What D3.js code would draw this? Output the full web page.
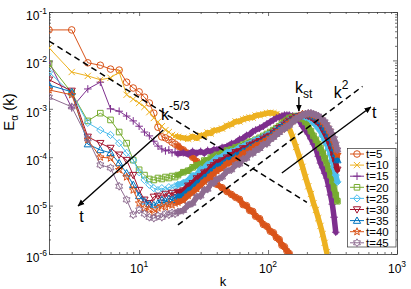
<!DOCTYPE html>
<html><head><meta charset="utf-8">
<script src="https://cdn.jsdelivr.net/npm/d3@7"></script>
<style>
body{margin:0;background:#fff}
svg{display:block}
text{font-family:"Liberation Sans",Arial,Helvetica,sans-serif;fill:#000}
</style>
</head><body>
<svg id="c" width="411" height="289"></svg>
<script>
// wavenumbers shared by all spectra
const kGrid = [2,3,4,5,6,7,8,9,10,11,12,13,14,15,16,17,18,19,20,
  22,24,26,28,30,32,34,36,38,40,
  44,48,52,56,60,64,68,72,76,80,
  86,92,98,104,110,116,122,128,134,140,146,
  155,165,175,185,195,205,215,225,235,245,255,265,275,285,295,305,315,325,335,345];

// log10 of E_alpha(k)
const logE_t5 = [-1.37,-1.37,-2.05,-2.10,-2.18,-2.20,-2.45,-2.57,-2.65,-2.76,-2.88,-3.09,-3.38,-3.58,-3.60,-3.64,-3.69,-3.73,-3.77,
  -3.85,-3.92,-4.00,-4.09,-4.17,-4.25,-4.33,-4.42,-4.48,-4.56,
  -4.63,-4.71,-4.77,-4.83,-4.87,-4.98,-5.00,-5.10,-5.12,-5.22,
  -5.27,-5.39,-5.43,-5.53,-5.56,-5.66,-5.70,-5.82,-5.85,-5.94,-5.99];
const logE_t10 = [-1.74,-2.24,-2.32,-2.40,-2.36,-2.24,-2.71,-2.80,-2.88,-2.96,-3.07,-3.19,-3.27,-3.36,-3.44,-3.48,-3.54,-3.56,-3.58,
  -3.60,-3.62,-3.57,-3.61,-3.55,-3.55,-3.49,-3.51,-3.45,-3.44,
  -3.41,-3.35,-3.32,-3.26,-3.26,-3.22,-3.20,-3.18,-3.18,-3.14,
  -3.13,-3.11,-3.09,-3.08,-3.09,-3.11,-3.15,-3.19,-3.25,-3.31,-3.40,
  -3.58,-3.79,-4.00,-4.20,-4.41,-4.60,-4.76,-4.95,-5.09,-5.26,-5.42,-5.59,-5.77,-5.96];
const logE_t15 = [-2.03,-2.98,-2.59,-2.45,-3.00,-3.05,-3.15,-3.25,-3.36,-3.48,-3.56,-3.67,-3.77,-3.83,-3.87,-3.85,-3.91,-3.89,-3.93,
  -3.91,-3.94,-3.88,-3.92,-3.88,-3.92,-3.86,-3.89,-3.84,-3.85,
  -3.80,-3.78,-3.72,-3.70,-3.63,-3.61,-3.55,-3.53,-3.47,-3.44,
  -3.40,-3.36,-3.31,-3.27,-3.23,-3.19,-3.17,-3.15,-3.13,-3.13,-3.13,
  -3.15,-3.19,-3.25,-3.36,-3.44,-3.52,-3.62,-3.73,-3.83,-3.98,-4.12,-4.22,-4.33,-4.43,-4.60,-4.78,-4.97,-5.24,-5.55];
const logE_t20 = [-2.07,-2.67,-3.25,-3.09,-3.23,-3.48,-3.71,-4.06,-4.26,-4.37,-4.45,-4.47,-4.43,-4.45,-4.41,-4.43,-4.39,-4.41,-4.37,
  -4.31,-4.28,-4.21,-4.17,-4.15,-4.07,-4.07,-4.01,-3.99,-3.95,
  -3.92,-3.86,-3.84,-3.80,-3.78,-3.74,-3.72,-3.68,-3.68,-3.64,
  -3.60,-3.56,-3.52,-3.48,-3.44,-3.40,-3.36,-3.31,-3.27,-3.23,-3.19,
  -3.17,-3.15,-3.17,-3.21,-3.27,-3.36,-3.46,-3.56,-3.64,-3.73,-3.81,-3.91,-4.02,-4.12,-4.24,-4.37,-4.49,-4.64,-4.78,-4.91];
const logE_t25 = [-2.24,-2.69,-3.29,-3.44,-3.54,-3.71,-3.91,-4.06,-4.31,-4.47,-4.57,-4.64,-4.68,-4.64,-4.68,-4.62,-4.64,-4.60,-4.57,
  -4.53,-4.48,-4.38,-4.36,-4.25,-4.23,-4.15,-4.13,-4.07,-4.02,
  -3.99,-3.90,-3.88,-3.86,-3.80,-3.78,-3.74,-3.72,-3.68,-3.65,
  -3.62,-3.58,-3.54,-3.52,-3.48,-3.42,-3.38,-3.33,-3.31,-3.27,-3.23,
  -3.21,-3.17,-3.15,-3.15,-3.17,-3.19,-3.23,-3.29,-3.33,-3.40,-3.46,-3.56,-3.64,-3.73,-3.83,-3.93,-4.08,-4.22,-4.37,-4.51];
const logE_t30 = [-2.40,-2.63,-3.58,-3.71,-3.81,-3.95,-4.06,-4.37,-4.68,-4.88,-4.95,-4.82,-4.80,-4.84,-4.76,-4.80,-4.74,-4.78,-4.72,
  -4.69,-4.59,-4.54,-4.44,-4.40,-4.32,-4.30,-4.21,-4.17,-4.11,
  -4.07,-4.01,-3.96,-3.90,-3.88,-3.82,-3.82,-3.76,-3.74,-3.70,
  -3.67,-3.62,-3.58,-3.56,-3.50,-3.46,-3.40,-3.38,-3.33,-3.29,-3.25,
  -3.21,-3.17,-3.15,-3.13,-3.13,-3.15,-3.17,-3.21,-3.25,-3.29,-3.33,-3.42,-3.50,-3.58,-3.67,-3.77,-3.87,-4.00,-4.12,-4.26];
const logE_t35 = [-2.51,-2.65,-3.73,-3.85,-3.91,-4.12,-4.33,-4.57,-4.80,-4.91,-4.97,-4.99,-4.95,-4.88,-4.91,-4.86,-4.88,-4.84,-4.82,
  -4.79,-4.69,-4.63,-4.54,-4.50,-4.42,-4.38,-4.30,-4.25,-4.19,
  -4.15,-4.07,-4.03,-3.97,-3.94,-3.88,-3.86,-3.80,-3.78,-3.74,
  -3.71,-3.67,-3.62,-3.58,-3.52,-3.48,-3.42,-3.38,-3.36,-3.31,-3.27,
  -3.23,-3.17,-3.15,-3.11,-3.11,-3.11,-3.13,-3.15,-3.17,-3.21,-3.25,-3.31,-3.38,-3.44,-3.52,-3.60,-3.71,-3.81,-3.93,-4.06];
const logE_t40 = [-2.61,-2.71,-3.64,-4.00,-4.02,-4.26,-4.41,-4.68,-4.95,-5.05,-5.09,-5.15,-5.05,-5.01,-5.03,-4.97,-4.99,-4.95,-4.93,
  -4.89,-4.79,-4.73,-4.65,-4.58,-4.50,-4.46,-4.38,-4.34,-4.28,
  -4.23,-4.13,-4.11,-4.03,-4.01,-3.92,-3.90,-3.84,-3.82,-3.76,
  -3.73,-3.69,-3.64,-3.60,-3.56,-3.50,-3.46,-3.42,-3.38,-3.33,-3.29,
  -3.25,-3.19,-3.15,-3.11,-3.11,-3.11,-3.11,-3.13,-3.15,-3.17,-3.21,-3.27,-3.31,-3.38,-3.44,-3.52,-3.60,-3.71,-3.83,-3.95];
const logE_t45 = [-2.76,-2.96,-3.62,-4.16,-4.22,-4.60,-4.88,-5.19,-5.09,-5.17,-5.24,-5.26,-5.21,-5.24,-5.17,-5.19,-5.15,-5.17,-5.13,
  -5.10,-4.99,-4.95,-4.82,-4.80,-4.68,-4.66,-4.55,-4.53,-4.46,
  -4.41,-4.29,-4.26,-4.16,-4.14,-4.04,-4.02,-3.93,-3.92,-3.86,
  -3.82,-3.74,-3.72,-3.63,-3.59,-3.53,-3.49,-3.43,-3.41,-3.37,-3.34,
  -3.27,-3.21,-3.17,-3.13,-3.11,-3.09,-3.09,-3.11,-3.13,-3.15,-3.19,-3.23,-3.27,-3.33,-3.40,-3.46,-3.54,-3.62,-3.73,-3.85];

const seriesLabels = ["t=5","t=10","t=15","t=20","t=25","t=30","t=35","t=40","t=45"];
const seriesValues = [logE_t5,logE_t10,logE_t15,logE_t20,logE_t25,logE_t30,logE_t35,logE_t40,logE_t45];
const seriesColors = ["#D95319","#EDB120","#7E2F8E","#77AC30","#4DBEEE","#A2142F","#0072BD","#D95319","#8E6C90"];
const seriesMarkers = ["circle","x","plus","square","diamond","tridown","triup","pentagram","hexagram"];

// reference power laws (k, log10 E)
const refK53 = [2, 200], refLogE53 = [-1.60, -4.933];
const refK2 = [20, 540], refLogE2 = [-5.40, -2.537];

// axis ticks
const xTicks = [10, 100, 1000], xTickExp = ["1","2","3"];
const yTicks = [1e-6,1e-5,1e-4,1e-3,1e-2,1e-1], yTickExp = ["-6","-5","-4","-3","-2","-1"];

// annotations (k, log10 E)
const arrowLeft = {k:[15.4, 3.36], le:[-3.438, -5.008]};
const arrowRight = {k:[128, 627], le:[-4.326, -2.963]};
const arrowKst = {k:[173.4, 173.4], le:[-2.756, -3.045]};

const svg = d3.select("#c");
const L = 49, R = 397, T = 12, B = 254;
const x = d3.scaleLog().domain([2, 1000]).range([L, R]);
const y = d3.scaleLog().domain([1e-6, 1e-1]).range([B, T]);
const P = v => Math.pow(10, v);

svg.append("rect").attr("x",0).attr("y",0).attr("width",411).attr("height",289).attr("fill","#fff");

const defs = svg.append("defs");
defs.append("clipPath").attr("id","clip")
  .append("rect").attr("x",L).attr("y",T).attr("width",R-L).attr("height",B-T);
defs.append("marker").attr("id","ah").attr("viewBox","0 0 10 10").attr("refX",9).attr("refY",5)
  .attr("markerWidth",7).attr("markerHeight",7).attr("markerUnits","userSpaceOnUse").attr("orient","auto")
  .append("path").attr("d","M0,0.8 L10,5 L0,9.2 Z").attr("fill","#000");

// axes
const axCol = "#333";
const minorX = [], minorY = [];
[1,10,100].forEach(d => { for (let i=2;i<10;i++) { const v=i*d; if (v>=2 && v<1000) minorX.push(v);} });
[1e-6,1e-5,1e-4,1e-3,1e-2].forEach(d => { for (let i=2;i<10;i++) minorY.push(i*d); });

function drawAxis(gen, tx, ty) {
  return svg.append("g").attr("transform",`translate(${tx},${ty})`)
    .call(gen.tickSizeOuter(0).tickFormat(""));
}
function styleAxis(g){ g.selectAll("path").attr("stroke",axCol).attr("stroke-width",0.8);
  g.selectAll("line").attr("stroke",axCol).attr("stroke-width",0.7); g.selectAll("text").remove(); }

[[d3.axisBottom(x),0,B],[d3.axisTop(x),0,T]].forEach(([gen,tx,ty])=>{
  styleAxis(drawAxis(gen.tickValues(xTicks).tickSize(-4),tx,ty));
  const g2 = drawAxis((ty===B?d3.axisBottom(x):d3.axisTop(x)).tickValues(minorX).tickSize(-2),tx,ty);
  styleAxis(g2); g2.select("path").remove();
});
[[d3.axisLeft(y),L,0],[d3.axisRight(y),R,0]].forEach(([gen,tx,ty])=>{
  styleAxis(drawAxis(gen.tickValues(yTicks).tickSize(-4),tx,ty));
  const g2 = drawAxis((tx===L?d3.axisLeft(y):d3.axisRight(y)).tickValues(minorY).tickSize(-2),tx,ty);
  styleAxis(g2); g2.select("path").remove();
});

// tick labels
xTicks.forEach((v,i)=>{
  const t = svg.append("text").attr("x",x(v)).attr("y",B+19).attr("text-anchor","middle").attr("font-size",12);
  t.append("tspan").text("10");
  t.append("tspan").attr("dy",-6).attr("font-size",8.5).text(xTickExp[i]);
});
yTicks.forEach((v,i)=>{
  const t = svg.append("text").attr("x",L-2).attr("y",y(v)+8).attr("text-anchor","end").attr("font-size",12);
  t.append("tspan").text("10");
  t.append("tspan").attr("dy",-6).attr("font-size",8.5).text(yTickExp[i]);
});

// axis titles
svg.append("text").attr("x",223).attr("y",286).attr("text-anchor","middle").attr("font-size",13).text("k");
const yl = svg.append("text").attr("transform","translate(14,112) rotate(-90)").attr("text-anchor","middle").attr("font-size",15);
yl.append("tspan").text("E");
yl.append("tspan").attr("dy",4).attr("font-size",10).text("α");
yl.append("tspan").attr("dy",-4).text(" (k)");

// marker shapes
function markerPath(type, r) {
  switch(type){
    case "circle": return `M${-r},0A${r},${r} 0 1,0 ${r},0A${r},${r} 0 1,0 ${-r},0Z`;
    case "x": { const a=r*0.95; return `M${-a},${-a}L${a},${a}M${-a},${a}L${a},${-a}`; }
    case "plus": { const a=r*1.15; return `M${-a},0H${a}M0,${-a}V${a}`; }
    case "square": { const a=r*0.85; return `M${-a},${-a}H${a}V${a}H${-a}Z`; }
    case "diamond": { const a=r*1.1; return `M0,${-a}L${a},0L0,${a}L${-a},0Z`; }
    case "tridown": { const a=r*1.1; return `M${-a},${-a*0.75}L${a},${-a*0.75}L0,${a}Z`; }
    case "triup": { const a=r*1.1; return `M${-a},${a*0.75}L${a},${a*0.75}L0,${-a}Z`; }
    case "pentagram": case "hexagram": {
      const n = type==="pentagram"?5:6, ro=r*1.2, ri= type==="pentagram"?ro*0.42:ro*0.58;
      let p=""; for(let i=0;i<2*n;i++){ const ang=-Math.PI/2+i*Math.PI/n; const rr=i%2?ri:ro;
        p+=(i?"L":"M")+(rr*Math.cos(ang)).toFixed(2)+","+(rr*Math.sin(ang)).toFixed(2);} return p+"Z"; }
  }
}

const line = d3.line().x(d=>x(d[0])).y(d=>y(P(d[1])));
const plotG = svg.append("g").attr("clip-path","url(#clip)");

// series: thin connecting line, dense-marker band where markers overlap (k >= 20), markers
seriesValues.forEach((vals,si)=>{
  const pts = vals.map((v,i)=>[kGrid[i], v]);
  const g = plotG.append("g");
  const dense = pts.filter(d=>d[0]>=20);
  g.append("path").attr("d",line(dense)).attr("fill","none").attr("stroke",seriesColors[si])
    .attr("stroke-width",5.5).attr("stroke-linejoin","round").attr("stroke-linecap","round");
  g.append("path").attr("d",line(pts)).attr("fill","none").attr("stroke",seriesColors[si]).attr("stroke-width",1);
  g.selectAll("path.m").data(pts).enter().append("path").attr("class","m")
    .attr("transform",d=>`translate(${x(d[0])},${y(P(d[1]))})`)
    .attr("d",markerPath(seriesMarkers[si],3.3))
    .attr("fill","none").attr("stroke",seriesColors[si]).attr("stroke-width",1);
});

// reference dashed lines
[[refK53,refLogE53],[refK2,refLogE2]].forEach(([ks,ls])=>{
  plotG.append("path").attr("d",line(ks.map((k,i)=>[k,ls[i]])))
    .attr("fill","none").attr("stroke","#000").attr("stroke-width",1.5).attr("stroke-dasharray","6,4");
});

// arrows
[arrowLeft, arrowRight, arrowKst].forEach(a=>{
  svg.append("path").attr("d",line(a.k.map((k,i)=>[k,a.le[i]])))
    .attr("fill","none").attr("stroke","#000").attr("stroke-width",1.4).attr("marker-end","url(#ah)");
});

// annotation texts
function note(k, le, parts, anchor){
  const t = svg.append("text").attr("x",x(k)).attr("y",y(P(le))).attr("text-anchor",anchor||"start");
  parts.forEach(p=>{ const s=t.append("tspan").attr("font-size",p.fs).text(p.s); if(p.dy) s.attr("dy",p.dy); });
}
note(14.8, -3.231, [{s:"k",fs:16},{s:"-5/3",fs:12,dy:-10}]);
note(161.5, -2.674, [{s:"k",fs:16},{s:"st",fs:12,dy:5}]);
note(323.8, -2.777, [{s:"k",fs:16},{s:"2",fs:12,dy:-9}]);
note(3.57, -5.339, [{s:"t",fs:16}], "middle");
note(667, -3.19, [{s:"t",fs:16}], "middle");

// legend
const lg = svg.append("g");
lg.append("rect").attr("x",347.5).attr("y",148.5).attr("width",48.5).attr("height",98.5)
  .attr("fill","#fff").attr("stroke","#333").attr("stroke-width",0.7);
seriesLabels.forEach((lab,i)=>{
  const cy = 154 + i*11.1;
  lg.append("line").attr("x1",350).attr("x2",364).attr("y1",cy).attr("y2",cy)
    .attr("stroke",seriesColors[i]).attr("stroke-width",1);
  lg.append("path").attr("transform",`translate(357,${cy})`).attr("d",markerPath(seriesMarkers[i],3.3))
    .attr("fill","none").attr("stroke",seriesColors[i]).attr("stroke-width",1);
  lg.append("text").attr("x",366).attr("y",cy+4.2).attr("font-size",11.5).text(lab);
});
</script>
</body></html>
